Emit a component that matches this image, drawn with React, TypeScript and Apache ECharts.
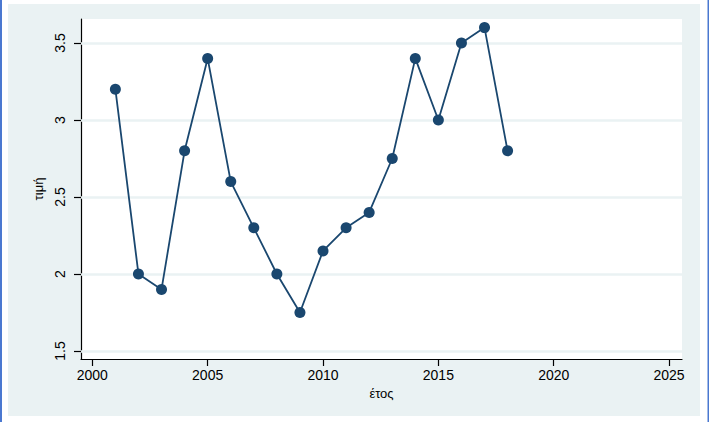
import React, { useEffect, useRef } from "react";
import * as echarts from "echarts";

const years = [2001, 2002, 2003, 2004, 2005, 2006, 2007, 2008, 2009, 2010, 2011, 2012, 2013, 2014, 2015, 2016, 2017, 2018];
const values = [3.2, 2.0, 1.9, 2.8, 3.4, 2.6, 2.3, 2.0, 1.75, 2.15, 2.3, 2.4, 2.75, 3.4, 3.0, 3.5, 3.6, 2.8];
const xTicks = [2000, 2005, 2010, 2015, 2020, 2025];
const yTicks = [1.5, 2, 2.5, 3, 3.5];
const xTitle = "έτος";
const yTitle = "τιμή";

const FONT = 'Arial, "Liberation Sans", sans-serif';
const NAVY = "#1A476F";
const GRID = "#EAF2F3";

export default function App() {
  const ref = useRef<HTMLDivElement>(null);
  useEffect(() => {
    if (!ref.current) return;
    const chart = echarts.init(ref.current, null, { renderer: "svg" });
    chart.setOption({
      animation: false,
      backgroundColor: "#ffffff",
      graphic: [
        { type: "rect", z: -10, shape: { x: 8, y: 4, width: 692, height: 412 }, style: { fill: GRID } },
        { type: "rect", z: -10, shape: { x: 0, y: 0, width: 2, height: 422 }, style: { fill: "#4A78D0" } },
        { type: "rect", z: -10, shape: { x: 707.5, y: 0, width: 1.5, height: 422 }, style: { fill: "#4A78D0" } },
      ],
      grid: {
        left: 81,
        right: 30,
        top: 19,
        bottom: 63,
        show: true,
        backgroundColor: "#ffffff",
        borderWidth: 0,
      },
      xAxis: {
        type: "value",
        min: 1999.51,
        max: 2025.56,
        name: xTitle,
        nameLocation: "middle",
        nameGap: 26,
        nameTextStyle: { fontFamily: FONT, fontSize: 13, color: "#000" },
        axisLine: { show: true, lineStyle: { color: "#000", width: 1.2 } },
        axisTick: { show: true, length: 7, customValues: xTicks, lineStyle: { color: "#000", width: 1.2 } },
        axisLabel: { customValues: xTicks, margin: 9, fontFamily: FONT, fontSize: 14, color: "#000", formatter: (v: number) => String(v) },
        splitLine: { show: false },
      },
      yAxis: {
        type: "value",
        min: 1.448,
        max: 3.656,
        name: yTitle,
        nameLocation: "middle",
        nameGap: 31,
        nameTextStyle: { fontFamily: FONT, fontSize: 13, color: "#000" },
        axisLine: { show: true, lineStyle: { color: "#000", width: 1.2 } },
        axisTick: { show: true, length: 7, customValues: yTicks, lineStyle: { color: "#000", width: 1.2 } },
        axisLabel: { customValues: yTicks, rotate: 90, margin: 14, fontFamily: FONT, fontSize: 14, color: "#000", formatter: (v: number) => String(v) },
        splitLine: { show: false },
      },
      series: [
        {
          type: "line",
          data: [],
          silent: true,
          z: 1,
          markLine: {
            silent: true,
            symbol: "none",
            label: { show: false },
            lineStyle: { color: GRID, width: 2.5, type: "solid" },
            data: yTicks.map((t) => ({ yAxis: t })),
          },
        },
        {
          type: "line",
          z: 5,
          data: years.map((y, i) => [y, values[i]]),
          symbol: "circle",
          symbolSize: 11,
          itemStyle: { color: NAVY },
          lineStyle: { color: NAVY, width: 1.8 },
        },
      ],
    });
    return () => chart.dispose();
  }, []);
  return <div ref={ref} style={{ position: "fixed", left: 0, top: 0, width: 712, height: 422 }} />;
}
